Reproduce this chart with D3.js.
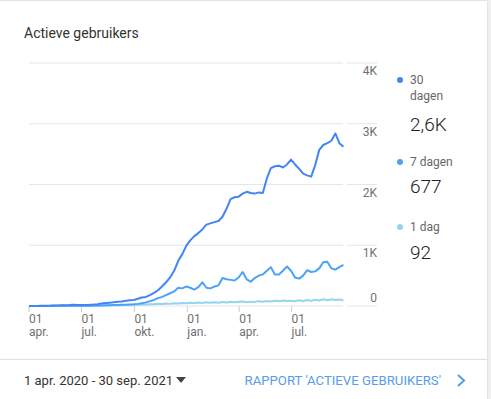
<!doctype html>
<html lang="nl">
<head>
<meta charset="UTF-8" />
<script src="https://cdn.jsdelivr.net/npm/d3@7"></script>
<style>
  html, body { margin: 0; padding: 0; background: #f1f1f1; }
  body { width: 491px; height: 399px; overflow: hidden; font-family: Roboto, "Noto Sans", sans-serif; }
  #card { position: absolute; left: 0; top: 1px; width: 487px; height: 398px; background: #fff;
          box-shadow: 0 0 2px rgba(0,0,0,0.18); }
</style>
</head>
<body>
<div id="card"></div>
<script>
  // weekly samples starting 1 apr. 2020
  const startDate = new Date(2020, 3, 1);
  const endDate = new Date(2021, 8, 30);
  const users30 = [0, 0, 2, 3, 5, 6, 8, 10, 12, 14, 15, 22, 16, 15, 18, 20, 24, 30, 40, 48,
    55, 62, 68, 75, 85, 95, 100, 120, 140, 150, 180, 215, 260, 320, 390, 470, 580, 740, 850, 990,
    1080, 1150, 1200, 1260, 1340, 1360, 1380, 1400, 1470, 1600, 1760, 1790, 1800, 1850, 1880, 1860, 1850, 1870, 1860, 2100,
    2270, 2300, 2310, 2280, 2330, 2410, 2330, 2260, 2180, 2150, 2130, 2320, 2570, 2650, 2680, 2720, 2840, 2680, 2620];
  const users7 = [0, 0, 1, 1, 2, 2, 3, 3, 4, 3, 4, 5, 4, 4, 5, 6, 7, 8, 10, 12,
    14, 15, 17, 19, 22, 25, 28, 35, 45, 60, 80, 100, 130, 150, 180, 210, 240, 300, 290, 320,
    300, 270, 310, 390, 300, 290, 320, 340, 460, 440, 430, 420, 470, 560, 440, 400, 460, 500, 520, 580,
    640, 520, 520, 580, 650, 580, 470, 450, 500, 590, 560, 570, 620, 720, 730, 620, 600, 640, 677];
  const users1 = [0, 0, 1, 0, 1, 1, 2, 1, 3, 2, 4, 3, 5, 4, 6, 5, 8, 6, 10, 9,
    12, 11, 15, 13, 18, 16, 22, 19, 26, 24, 30, 27, 36, 32, 40, 35, 46, 41, 50, 44,
    54, 47, 58, 50, 62, 55, 60, 52, 66, 58, 70, 61, 68, 74, 63, 72, 66, 80, 70, 84,
    75, 88, 78, 92, 82, 86, 79, 95, 84, 98, 88, 104, 92, 110, 96, 112, 100, 106, 92];
  const seriesNames = ["30\ndagen", "7 dagen", "1 dag"];
  const seriesTotals = ["2,6K", "677", "92"];
  const seriesColors = ["#4285f4", "#4da3f3", "#93d4ef"];
  const yTicks = [0, 1000, 2000, 3000, 4000];
  const yTickLabels = ["0", "1K", "2K", "3K", "4K"];
  const xTicks = [new Date(2020, 3, 1), new Date(2020, 6, 1), new Date(2020, 9, 1),
    new Date(2021, 0, 1), new Date(2021, 3, 1), new Date(2021, 6, 1)];
  const xTickMonths = ["apr.", "jul.", "okt.", "jan.", "apr.", "jul."];

  const dates = users30.map((_, i) => d3.timeDay.offset(startDate, i * 7));

  const width = 491, height = 399;
  const svg = d3.select("#card").append("svg")
    .attr("width", width).attr("height", height)
    .style("position", "absolute").style("left", 0).style("top", "-1px");

  const x = d3.scaleTime().domain([startDate, endDate]).range([29, 344]);
  const y = d3.scaleLinear().domain([0, 4000]).range([306, 63]);

  svg.append("text").attr("x", 24).attr("y", 38)
    .attr("font-size", 14).attr("fill", "#333").text("Actieve gebruikers");

  // grid
  const grid = svg.append("g");
  grid.selectAll("line.a").data(yTicks).enter().append("line")
    .attr("x1", 29).attr("x2", 343).attr("y1", d => y(d)).attr("y2", d => y(d))
    .attr("stroke", "#e6e6e6");
  grid.selectAll("line.b").data(yTicks).enter().append("line")
    .attr("x1", 347).attr("x2", 377).attr("y1", d => y(d)).attr("y2", d => y(d))
    .attr("stroke", "#e6e6e6");
  grid.selectAll("text").data(yTicks).enter().append("text")
    .attr("x", 377).attr("y", d => d === 0 ? y(d) - 4 : y(d) + 12)
    .attr("text-anchor", "end").attr("font-size", 12).attr("fill", "#707070")
    .text((d, i) => yTickLabels[i]);

  // x axis
  const xa = svg.append("g");
  xa.selectAll("line").data(xTicks).enter().append("line")
    .attr("x1", d => x(d)).attr("x2", d => x(d)).attr("y1", 306).attr("y2", 312)
    .attr("stroke", "#ccc");
  xa.selectAll("text.d").data(xTicks).enter().append("text")
    .attr("x", d => x(d)).attr("y", 323).attr("font-size", 12).attr("fill", "#707070").text("01");
  xa.selectAll("text.m").data(xTicks).enter().append("text")
    .attr("x", d => x(d)).attr("y", 336).attr("font-size", 12).attr("fill", "#707070")
    .text((d, i) => xTickMonths[i]);

  const line = d3.line().x((d, i) => x(dates[i])).y(d => y(d));
  [users1, users7, users30].forEach((s, j) => {
    svg.append("path").datum(s).attr("d", line).attr("fill", "none")
      .attr("stroke", seriesColors[2 - j]).attr("stroke-width", 2)
      .attr("stroke-linejoin", "round");
  });

  // legend
  const legendY = [80, 162, 227];
  const totalY = [131, 193, 259];
  seriesNames.forEach((n, i) => {
    svg.append("circle").attr("cx", 400).attr("cy", legendY[i]).attr("r", 3).attr("fill", seriesColors[i]);
    n.split("\n").forEach((part, k) => {
      svg.append("text").attr("x", 410).attr("y", legendY[i] + 4 + k * 16)
        .attr("font-size", 12).attr("fill", "#666").text(part);
    });
    svg.append("text").attr("x", 410).attr("y", totalY[i])
      .attr("font-size", 19).attr("font-weight", 300).attr("fill", "#212121").text(seriesTotals[i]);
  });

  // footer
  svg.append("line").attr("x1", 0).attr("x2", 487).attr("y1", 359.5).attr("y2", 359.5).attr("stroke", "#e0e0e0");
  svg.append("text").attr("x", 24).attr("y", 385).attr("font-size", 13).attr("fill", "#333")
    .text("1 apr. 2020 - 30 sep. 2021");
  svg.append("path").attr("d", "M176,377 L186,377 L181,383 Z").attr("fill", "#444");
  svg.append("text").attr("x", 441).attr("y", 385).attr("text-anchor", "end")
    .attr("font-size", 13.2).attr("fill", "#5a9be8").text("RAPPORT 'ACTIEVE GEBRUIKERS'");
  svg.append("path").attr("d", "M458,375 L464,380.5 L458,386").attr("fill", "none")
    .attr("stroke", "#5a9be8").attr("stroke-width", 2);
</script>
</body>
</html>
